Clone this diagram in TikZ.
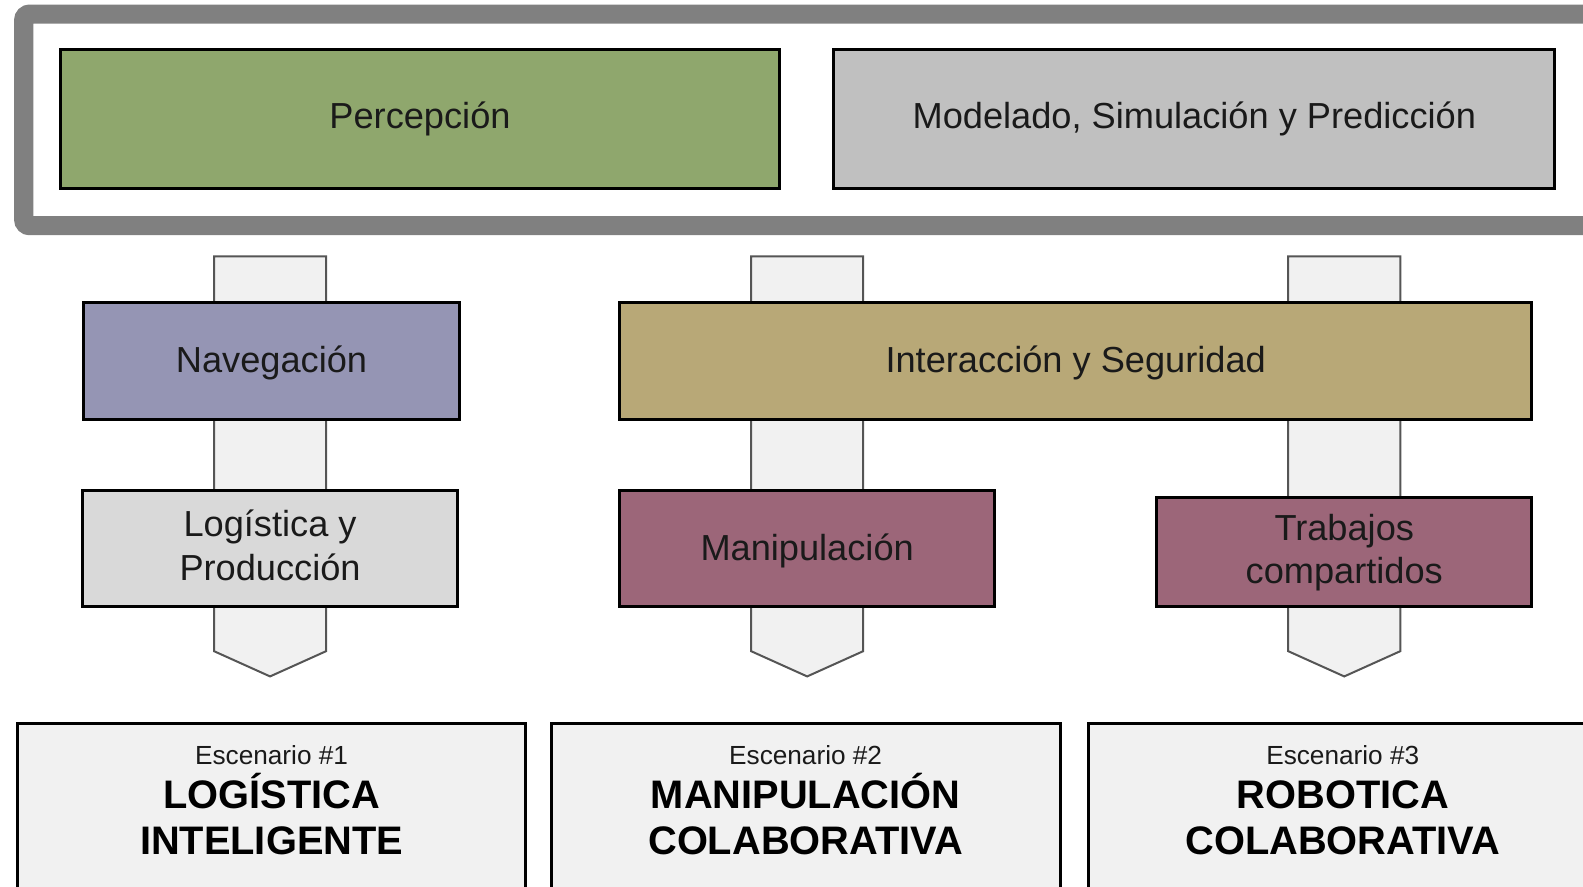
\documentclass[tikz,border=0pt]{standalone}
\usepackage{fontspec}
\setmainfont{Liberation Sans}
\usetikzlibrary{fit}
\definecolor{cgreen}{HTML}{8FA76D}
\definecolor{cgray}{HTML}{C0C0C0}
\definecolor{cnav}{HTML}{9595B4}
\definecolor{cint}{HTML}{B8A877}
\definecolor{clog}{HTML}{D9D9D9}
\definecolor{cman}{HTML}{9C6679}
\definecolor{clight}{HTML}{F1F1F1}
\definecolor{cframe}{HTML}{808080}
\definecolor{carrow}{HTML}{555555}
\definecolor{ctext}{HTML}{1A1A1A}
\begin{document}
\begin{tikzpicture}[x=0.504783pt,y=-0.504783pt,
  box/.style={draw=black, line width=1.5pt, inner sep=0pt},
  lbl/.style={anchor=base, inner sep=0pt, text=ctext, font={\fontsize{18.1}{22}\selectfont}},
  scen/.style={draw=black, line width=1.5pt, fill=clight, inner sep=0pt},
  scentitle/.style={anchor=base, inner sep=0pt, text=ctext, font={\fontsize{13.1}{15}\selectfont}},
  scenname/.style={anchor=base, inner sep=0pt, text=black, font={\bfseries\fontsize{19.9}{23}\selectfont}},
  blockarrow/.style={draw=carrow, line width=1pt, fill=clight, line join=miter}
]
\useasboundingbox (0,0) rectangle (1568,877.6);
\clip (0,0) rectangle (1568,877.6);

% outer frame (right side runs off the picture)
\draw[line width=9.6pt, cframe, rounded corners=3pt] (23.5,14) rectangle (1590,223.5);

% top boxes
\node[box, fill=cgreen, fit={(60,49) (772,187)}] (perc) {};
\node[box, fill=cgray, fit={(826,49) (1540,187)}] (model) {};
\node[lbl] (percT) at (416,126.8) {Percepción};
\node[lbl] (modelT) at (1183,126.8) {Modelado, Simulación y Predicción};

% block arrows (behind middle boxes)
\foreach \cx/\nm in {267.5/a1, 799.5/a2, 1331.5/a3}{
  \coordinate (\nm top) at (\cx,254);
  \coordinate (\nm tip) at (\cx,670);
  \draw[blockarrow] (\cx-55.5,254) -- (\cx+55.5,254) -- (\cx+55.5,645) -- (\nm tip) -- (\cx-55.5,645) -- cycle;
}

% middle boxes
\node[box, fill=cnav, fit={(83,300) (455,416)}] (nav) {};
\node[box, fill=cint, fit={(614,300) (1517,416)}] (inter) {};
\node[box, fill=clog, fit={(82,486) (453,601)}] (logi) {};
\node[box, fill=cman, fit={(614,486) (985,601)}] (manip) {};
\node[box, fill=cman, fit={(1146,493) (1517,601)}] (trab) {};

\node[lbl] (navT) at (269,368.5) {Navegación};
\node[lbl] (interT) at (1065.5,368.5) {Interacción y Seguridad};
\node[lbl] (logiT1) at (267.5,531) {Logística y};
\node[lbl] (logiT2) at (267.5,574.5) {Producción};
\node[lbl] (manipT) at (799.5,555.5) {Manipulación};
\node[lbl] (trabT1) at (1331.5,535) {Trabajos};
\node[lbl] (trabT2) at (1331.5,577.5) {compartidos};

% bottom scenario boxes (bottom edge runs off the picture)
\node[scen, fit={(17,717) (521,900)}] (esc1) {};
\node[scen, fit={(546,717) (1050,900)}] (esc2) {};
\node[scen, fit={(1078,717) (1582,900)}] (esc3) {};

\node[scentitle] (t1) at (269,756.8) {Escenario \#1};
\node[scentitle] (t2) at (798,756.8) {Escenario \#2};
\node[scentitle] (t3) at (1330,756.8) {Escenario \#3};

\node[scenname] (n1a) at (269,801.3) {LOGÍSTICA};
\node[scenname] (n1b) at (269,845.9) {INTELIGENTE};
\node[scenname] (n2a) at (798,801.3) {MANIPULACIÓN};
\node[scenname] (n2b) at (798,845.9) {COLABORATIVA};
\node[scenname] (n3a) at (1330,801.3) {ROBOTICA};
\node[scenname] (n3b) at (1330,845.9) {COLABORATIVA};
\end{tikzpicture}
\end{document}
